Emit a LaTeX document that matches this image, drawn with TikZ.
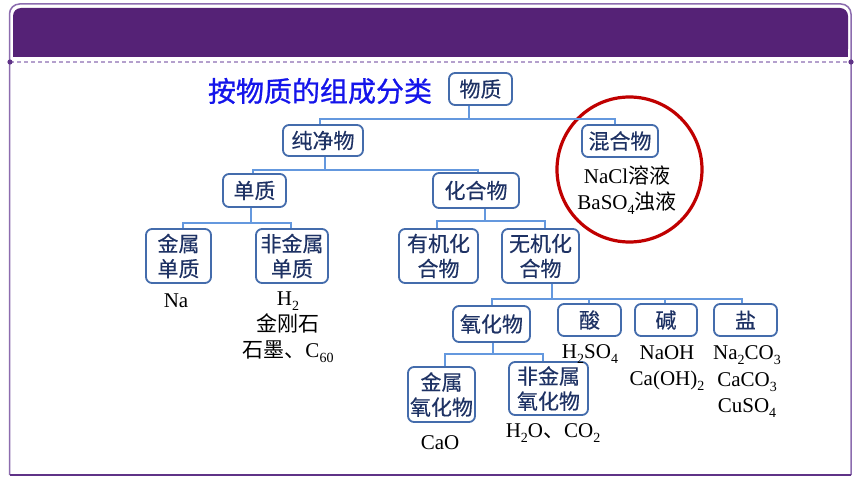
\documentclass[tikz,border=0pt]{standalone}
\usepackage{fontspec}
\setmainfont{Liberation Serif}
\newfontfamily\cjk{Noto Sans CJK SC}
\newfontfamily\cjkm[FakeBold=0.3]{Noto Sans CJK SC}
\newfontfamily\cjkt[FakeBold=0.9]{Noto Sans CJK SC}
\definecolor{hdr}{RGB}{85,34,118}
\definecolor{framec}{RGB}{140,108,175}
\definecolor{framedk}{RGB}{95,50,135}
\definecolor{dashc}{RGB}{180,160,205}
\definecolor{boxb}{RGB}{68,108,172}
\definecolor{boxt}{RGB}{30,50,100}
\definecolor{connc}{RGB}{100,152,222}
\definecolor{ringc}{RGB}{192,0,0}
\definecolor{titlec}{RGB}{20,20,235}
\newcommand\sbx[1]{\raisebox{-0.25em}[0pt][0pt]{\fontsize{14}{14}\selectfont #1}}
\begin{document}
\begin{tikzpicture}[x=1pt,y=-1pt,
  stepbox/.style={draw=boxb, line width=1.8pt, rounded corners=6pt, fill=white,
    text=boxt, font=\cjkm\fontsize{21}{25}\selectfont, inner sep=0pt, align=center},
  conn/.style={draw=connc, line width=1.7pt},
  lbl/.style={font=\fontsize{21}{26}\selectfont, anchor=base, inner sep=0pt, text=black},
  dline/.style={draw=dashc, line width=2pt, dash pattern=on 4pt off 3pt}]
\useasboundingbox (0,0) rectangle (860,484);
% frame
\fill[white] (0,0) rectangle (860,484);
\fill[hdr, rounded corners=8pt] (13,8) rectangle (848,57);
\fill[hdr] (13,35) rectangle (848,57);
\draw[framec, line width=1.5pt, rounded corners=10pt] (9.5,475) -- (9.5,4) -- (851,4) -- (851,475);
\draw[framedk, line width=2pt] (9.5,475) -- (851,475);
\draw[dline] (10,62) -- (851,62);
\fill[framedk] (10,62) circle [radius=2.6];
\fill[framedk] (851,62) circle [radius=2.6];
% title
\node[text=titlec, font=\cjkt\fontsize{28}{30}\selectfont, inner sep=0pt] (title) at (320,91) {按物质的组成分类};
% boxes
\node[stepbox, minimum width=63pt, minimum height=32pt] (wz) at (480.5,89) {物质};
\node[stepbox, minimum width=80pt, minimum height=31pt] (cjw) at (323,140.5) {纯净物};
\node[stepbox, minimum width=76pt, minimum height=32pt] (hhw) at (620,141) {混合物};
\node[stepbox, minimum width=63pt, minimum height=33pt] (dz) at (254.5,190.5) {单质};
\node[stepbox, minimum width=86pt, minimum height=35pt] (hhw2) at (476,190.5) {化合物};
\node[stepbox, minimum width=65pt, minimum height=54pt] (jsdz) at (178.5,256) {金属\\单质};
\node[stepbox, minimum width=72pt, minimum height=54pt] (fjsdz) at (292,256) {非金属\\单质};
\node[stepbox, minimum width=79pt, minimum height=54pt] (yjhhw) at (438.5,256) {有机化\\合物};
\node[stepbox, minimum width=77pt, minimum height=54pt] (wjhhw) at (540.5,256) {无机化\\合物};
\node[stepbox, minimum width=77pt, minimum height=36pt] (yhw) at (491.5,324) {氧化物};
\node[stepbox, minimum width=63pt, minimum height=32pt] (suan) at (589.5,320) {酸};
\node[stepbox, minimum width=62pt, minimum height=32pt] (jian) at (666,320) {碱};
\node[stepbox, minimum width=63pt, minimum height=32pt] (yan) at (745.5,320) {盐};
\node[stepbox, minimum width=67pt, minimum height=55pt] (jsyhw) at (441.5,394.5) {金属\\氧化物};
\node[stepbox, minimum width=79pt, minimum height=53pt] (fjsyhw) at (548.5,388.5) {非金属\\氧化物};
% ring
\node[draw=ringc, line width=3.2pt, circle, minimum size=145pt, inner sep=0pt] (ring) at (629.5,169.5) {};
% connectors
\draw[conn] ([xshift=-11.5pt]wz.south) -- ++(0,13) coordinate (j1);
\draw[conn] ([xshift=-3pt]cjw.north) |- (j1) -| ([xshift=-5pt]hhw.north);
\draw[conn] ([xshift=2pt]cjw.south) -- ++(0,13) coordinate (j2);
\draw[conn] ([xshift=-1.5pt]dz.north) |- (j2) -| ([xshift=2pt]hhw2.north);
\draw[conn] ([xshift=-3.5pt]dz.south) -- ++(0,15) coordinate (j3);
\draw[conn] ([xshift=4.5pt]jsdz.north) |- (j3) -| ([xshift=-1pt]fjsdz.north);
\draw[conn] ([xshift=9pt]hhw2.south) -- ++(0,12) coordinate (j4);
\draw[conn] ([xshift=-1.5pt]yjhhw.north) |- (j4) -| ([xshift=4.5pt]wjhhw.north);
\draw[conn] ([xshift=11.5pt]wjhhw.south) -- ++(0,15) coordinate (j5);
\draw[conn] ([xshift=0.5pt]yhw.north) |- (j5) -| ([xshift=-3.5pt]yan.north);
\draw[conn] ([xshift=-0.5pt]suan.north) -- ([xshift=-0.5pt]suan.north |- j5);
\draw[conn] ([xshift=-1pt]jian.north) -- ([xshift=-1pt]jian.north |- j5);
\draw[conn] ([xshift=1.5pt]yhw.south) -- ++(0,11) coordinate (j6);
\draw[conn] ([xshift=3.5pt]jsyhw.north) |- (j6) -| ([xshift=-5.5pt]fjsyhw.north);
% labels
\node[lbl] (t1) at (627,184) {NaCl{\cjk 溶液}};
\node[lbl] (t2) at (627,209) {BaSO\sbx{4}{\cjk 浊液}};
\node[lbl] (t3) at (176,307) {Na};
\node[lbl] (t4) at (288,305) {H\sbx{2}};
\node[lbl] (t5) at (288,331.5) {\cjk 金刚石};
\node[lbl] (t6) at (288,357) {{\cjk 石墨、}C\sbx{60}};
\node[lbl] (t7) at (590,358) {H\sbx{2}SO\sbx{4}};
\node[lbl] (t8) at (667,359) {NaOH};
\node[lbl] (t9) at (667,385) {Ca(OH)\sbx{2}};
\node[lbl] (t10) at (747,359) {Na\sbx{2}CO\sbx{3}};
\node[lbl] (t11) at (747,386) {CaCO\sbx{3}};
\node[lbl] (t12) at (747,412) {CuSO\sbx{4}};
\node[lbl] (t13) at (553,437) {H\sbx{2}O{\cjk 、}CO\sbx{2}};
\node[lbl] (t14) at (440,449) {CaO};
\end{tikzpicture}
\end{document}
